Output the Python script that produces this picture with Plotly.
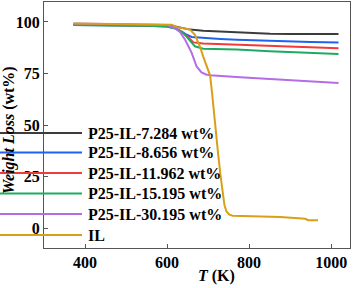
import plotly.graph_objects as go

# ---- data ----
names = ["P25-IL-7.284 wt%", "P25-IL-8.656 wt%", "P25-IL-11.962 wt%",
         "P25-IL-15.195 wt%", "P25-IL-30.195 wt%", "IL"]
colors = ["#3c3c3c", "#1f62ee", "#f23a3a", "#1faa60", "#b36ee6", "#d9a017"]

t_black = [372, 450, 550, 600, 620, 640, 656, 688, 730, 770, 810, 851, 900, 960, 1018]
w_black = [99.0, 98.8, 98.6, 98.3, 97.8, 97.0, 96.3, 95.8, 95.4, 95.0, 94.6, 94.3, 94.2, 94.2, 94.2]

t_blue = [372, 450, 550, 600, 620, 635, 648, 660, 688, 730, 770, 850, 950, 1018]
w_blue = [98.5, 98.4, 98.2, 97.8, 97.0, 95.5, 93.8, 92.7, 92.2, 91.8, 91.4, 90.8, 90.3, 90.1]

t_red = [372, 450, 550, 600, 620, 640, 656, 664, 688, 730, 770, 850, 950, 1018]
w_red = [98.8, 98.6, 98.4, 98.0, 97.0, 94.5, 91.7, 90.1, 89.6, 89.3, 89.0, 88.3, 87.6, 87.2]

t_green = [372, 450, 550, 600, 620, 639, 656, 668, 688, 730, 770, 850, 950, 1018]
w_green = [98.5, 98.4, 98.2, 97.8, 96.8, 94.8, 91.0, 88.2, 87.0, 86.8, 86.6, 85.8, 85.0, 84.5]

t_purple = [372, 450, 550, 600, 620, 632, 645, 660, 672, 684, 695, 705, 778, 851, 950, 1018]
w_purple = [99.3, 99.0, 98.8, 98.5, 97.0, 95.0, 91.0, 85.0, 78.4, 75.5, 74.5, 74.1, 73.2, 72.3, 71.2, 70.4]

t_il = [372, 450, 550, 600, 612, 618, 625, 640, 656, 668, 680, 688, 697, 705, 710, 715,
        720, 725, 730, 735, 740, 745, 752, 760, 800, 876, 937, 944, 968]
w_il = [99.3, 99.1, 99.0, 98.8, 98.7, 98.0, 97.5, 97.0, 96.3, 93.8, 88.2, 83.3, 78.0, 74.0, 65.0, 54.0,
        43.0, 35.0, 26.0, 17.0, 11.0, 8.0, 6.5, 6.0, 5.8, 5.3, 4.5, 3.8, 3.8]

series_t = [t_black, t_blue, t_red, t_green, t_purple, t_il]
series_w = [w_black, w_blue, w_red, w_green, w_purple, w_il]

x_ticks = [400, 600, 800, 1000]
y_ticks = [0, 25, 50, 75, 100]

# ---- layout constants ----
W, H = 353, 288
ml, mr, mt, mb = 44, 3, 2, 40
pw, ph = W - ml - mr, H - mt - mb
FONT = "Liberation Serif"

fig = go.Figure()
for t, w, c, n in zip(series_t, series_w, colors, names):
    fig.add_trace(go.Scatter(x=t, y=w, mode="lines", name=n,
                             line=dict(color=c, width=2), showlegend=False,
                             hoverinfo="skip"))

# manual legend (long swatches extending left of the axis)
leg_y = [133, 152.5, 173, 193.5, 214, 235]
shapes = []
annotations = []
for py, c, n in zip(leg_y, colors, names):
    yp = (H - mb - py) / ph
    shapes.append(dict(type="line", xref="paper", yref="paper",
                       x0=(0 - ml) / pw, x1=(82 - ml) / pw, y0=yp, y1=yp,
                       line=dict(color=c, width=2)))
    annotations.append(dict(xref="paper", yref="paper", x=(86 - ml) / pw, y=yp,
                            text="<b>%s</b>" % n, showarrow=False,
                            xanchor="left", yanchor="middle",
                            font=dict(family=FONT, size=16, color="black")))

# axis titles
annotations.append(dict(xref="paper", yref="paper", x=(216 - ml) / pw, y=(H - mb - 276) / ph,
                        text="<b><i>T</i> (K)</b>", showarrow=False,
                        xanchor="center", yanchor="middle",
                        font=dict(family=FONT, size=16, color="black")))
annotations.append(dict(xref="paper", yref="paper", x=(9 - ml) / pw, y=(H - mb - 130) / ph,
                        text="<b><i>Weight Loss</i> (wt%)</b>", showarrow=False, textangle=-90,
                        xanchor="center", yanchor="middle",
                        font=dict(family=FONT, size=16, color="black")))

fig.update_layout(
    width=W, height=H,
    margin=dict(l=ml, r=mr, t=mt, b=mb),
    paper_bgcolor="white", plot_bgcolor="white",
    shapes=shapes, annotations=annotations,
    showlegend=False,
)
axis_common = dict(showline=True, mirror=True, linecolor="#555555", linewidth=1,
                   ticks="inside", ticklen=4, tickcolor="#555555", showgrid=False,
                   zeroline=False,
                   tickfont=dict(family=FONT, size=16, color="black", weight="bold"))
fig.update_xaxes(range=[300, 1046], tickvals=x_ticks, **axis_common)
fig.update_yaxes(range=[-9.7, 109.7], tickvals=y_ticks, **axis_common)

fig.write_html("out.html", config={"displayModeBar": False},
               post_script="document.body.style.margin='0';document.body.style.overflow='hidden';")
